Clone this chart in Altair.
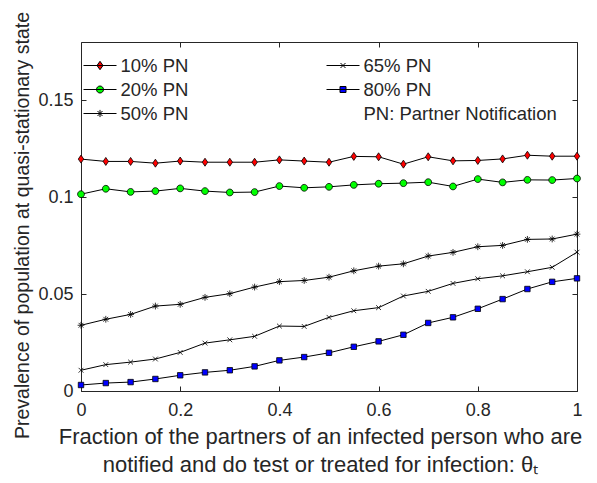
import altair as alt
import pandas as pd

theta = [0.0, 0.05, 0.1, 0.15, 0.2, 0.25, 0.3, 0.35, 0.4, 0.45, 0.5,
         0.55, 0.6, 0.65, 0.7, 0.75, 0.8, 0.85, 0.9, 0.95, 1.0]
pn10 = [0.1196, 0.1184, 0.1184, 0.1175, 0.1186, 0.1180, 0.1180, 0.1180, 0.1192, 0.1186, 0.1180,
        0.1210, 0.1208, 0.1170, 0.1208, 0.1187, 0.1189, 0.1197, 0.1216, 0.1211, 0.1211]
pn20 = [0.1015, 0.1043, 0.1027, 0.1031, 0.1045, 0.1031, 0.1024, 0.1026, 0.1057, 0.1048, 0.1053,
        0.1063, 0.1069, 0.1072, 0.1077, 0.1055, 0.1093, 0.1076, 0.1089, 0.1088, 0.1096]
pn50 = [0.0339, 0.0370, 0.0395, 0.0438, 0.0447, 0.0483, 0.0502, 0.0536, 0.0564, 0.0570, 0.0587,
        0.0620, 0.0644, 0.0656, 0.0696, 0.0715, 0.0744, 0.0751, 0.0782, 0.0784, 0.0809]
pn65 = [0.0107, 0.0136, 0.0149, 0.0165, 0.0199, 0.0247, 0.0264, 0.0282, 0.0335, 0.0333, 0.0380,
        0.0414, 0.0430, 0.0490, 0.0514, 0.0555, 0.0579, 0.0594, 0.0615, 0.0638, 0.0716]
pn80 = [0.0031, 0.0041, 0.0046, 0.0062, 0.0081, 0.0096, 0.0107, 0.0127, 0.0158, 0.0175, 0.0197,
        0.0228, 0.0256, 0.0290, 0.0351, 0.0380, 0.0424, 0.0474, 0.0526, 0.0563, 0.0581]

series_names = ["10% PN", "20% PN", "50% PN", "65% PN", "80% PN"]
series_values = [pn10, pn20, pn50, pn65, pn80]
note_label = "PN: Partner Notification"

x_ticks = [0, 0.2, 0.4, 0.6, 0.8, 1]
y_ticks = [0, 0.05, 0.1, 0.15]

rows = []
for name, vals in zip(series_names, series_values):
    for t, v in zip(theta, vals):
        rows.append({"theta": t, "value": v, "series": name})
df = pd.DataFrame(rows)

# marker shapes (unit paths) for the plot
plot_paths = [
    "M0,-1L0.68,0L0,1L-0.68,0Z",                                          # diamond
    "M0.85,0A0.85,0.85,0,1,1,-0.85,0A0.85,0.85,0,1,1,0.85,0Z",            # circle
    "M0,-0.85V0.85M-0.85,0H0.85M-0.6,-0.6L0.6,0.6M-0.6,0.6L0.6,-0.6",     # asterisk
    "M-0.6,-0.6L0.6,0.6M-0.6,0.6L0.6,-0.6",                              # x
    "M-0.68,-0.68H0.68V0.68H-0.68Z",                                      # square
]
fills = ["#ff0000", "#00ff00", "#000000", "#000000", "#0000ff"]

# legend symbols: short line with the marker in its middle
legend_paths = [
    "M-1.65,0H1.65M0,-0.42L0.3,0L0,0.42L-0.3,0Z",
    "M-1.65,0H1.65M0.35,0A0.35,0.35,0,1,1,-0.35,0A0.35,0.35,0,1,1,0.35,0Z",
    "M-1.65,0H1.65M0,-0.36V0.36M-0.36,0H0.36M-0.25,-0.25L0.25,0.25M-0.25,0.25L0.25,-0.25",
    "M-1.65,0H1.65M-0.25,-0.25L0.25,0.25M-0.25,0.25L0.25,-0.25",
    "M-1.65,0H1.65M-0.3,-0.3H0.3V0.3H-0.3Z",
]

leg_domain = series_names + [note_label]
leg_paths = legend_paths + ["M0,0L0,0"]
leg_fills = fills + ["transparent"]
leg_strokes = ["#000000"] * 5 + ["transparent"]

FONT = "Liberation Sans"
GREY = "#262626"

xscale = alt.Scale(domain=[0, 1], nice=False, zero=False)
yscale = alt.Scale(domain=[0, 0.18], nice=False, zero=False)

x_bottom = alt.Axis(orient="bottom", values=x_ticks, format="~g", grid=False, domain=False,
                    tickSize=5, offset=-5, labelPadding=10, tickColor=GREY, labelFlush=False,
                    labelFont=FONT, labelFontSize=18, labelColor=GREY,
                    title=["Fraction of the partners of an infected person who are",
                           "notified and do test or treated for infection:  θₜ" + "\u00a0" * 6],
                    titleFont=FONT, titleFontSize=22, titleFontWeight="normal", titleColor=GREY,
                    titlePadding=7, titleLineHeight=28, titleX=239)
y_left = alt.Axis(orient="left", values=y_ticks, format="~g", grid=False, domain=False,
                  tickSize=5, offset=-5, labelPadding=8, tickColor=GREY, labelFlush=False,
                  labelFont=FONT, labelFontSize=18, labelColor=GREY,
                  title="Prevalence of population at quasi-stationary state",
                  titleFont=FONT, titleFontSize=19.5, titleFontWeight="normal", titleColor=GREY,
                  titleX=-58, titleY=183, titleBaseline="alphabetic", titleAngle=270)
x_top = alt.Axis(orient="top", values=x_ticks, grid=False, domain=False, labels=False,
                 tickSize=5, offset=-5, tickColor=GREY, title=None)
y_right = alt.Axis(orient="right", values=y_ticks, grid=False, domain=False, labels=False,
                   tickSize=5, offset=-5, tickColor=GREY, title=None)

base = alt.Chart(df)

lines = base.mark_line(color="black", strokeWidth=1).encode(
    x=alt.X("theta:Q", scale=xscale, axis=x_bottom),
    y=alt.Y("value:Q", scale=yscale, axis=y_left),
    detail="series:N",
)

points = base.mark_point(filled=True, stroke="black", strokeWidth=0.8, size=64, opacity=1).encode(
    x=alt.X("theta:Q", scale=xscale, axis=x_top),
    y=alt.Y("value:Q", scale=yscale, axis=y_right),
    shape=alt.Shape("series:N", scale=alt.Scale(domain=series_names, range=plot_paths), legend=None),
    fill=alt.Fill("series:N", scale=alt.Scale(domain=series_names, range=fills), legend=None),
)

legend = alt.Legend(orient="none", legendX=8.5, legendY=13, columns=2, direction="vertical",
                    title=None, padding=0, symbolSize=400, symbolStrokeWidth=1,
                    labelFont=FONT, labelFontSize=18.5,
                    labelColor=GREY, labelOffset=10, rowPadding=4, columnPadding=136,
                    labelLimit=400)

leg_layer = base.transform_filter("datum.value < 0").mark_point(
    filled=False, strokeWidth=1, size=400, opacity=1).encode(
    x=alt.X("theta:Q", scale=xscale, axis=None),
    y=alt.Y("value:Q", scale=yscale, axis=None),
    shape=alt.Shape("series:N", scale=alt.Scale(domain=leg_domain, range=leg_paths), legend=legend),
    fill=alt.Fill("series:N", scale=alt.Scale(domain=leg_domain, range=leg_fills), legend=legend),
    stroke=alt.Stroke("series:N", scale=alt.Scale(domain=leg_domain, range=leg_strokes), legend=legend),
)

chart = alt.layer(lines, points, leg_layer).resolve_scale(
    shape="independent", fill="independent", stroke="independent"
).resolve_axis(
    x="independent", y="independent"
).properties(
    width=496, height=349,
    autosize=alt.AutoSizeParams(type="none"),
    padding={"left": 73, "top": 34, "right": 12, "bottom": 84},
    background="white",
).configure_view(stroke=GREY, strokeWidth=1)

chart.save("out.html", embed_options={"renderer": "svg", "actions": False})
